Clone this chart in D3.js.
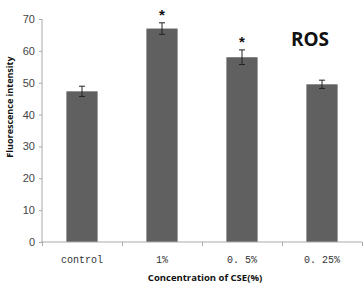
<!DOCTYPE html>
<html>
<head>
<meta charset="utf-8">
<script src="https://cdn.jsdelivr.net/npm/d3@7"></script>
<style>
  body { margin: 0; background: #fff; }
</style>
</head>
<body>
<div id="chart-area"></div>
<script>
let width = 364;
let height = 291;

// data
let groups = ["control", "1%", "0.5%", "0.25%"];
let groupLabels = ["control", "1%", "0. 5%", "0. 25%"];
let means = [47.3, 67, 58, 49.5];
let errors = [1.6, 1.8, 2.3, 1.3];
let marks = ["", "*", "*", ""];
let yTicks = [0, 10, 20, 30, 40, 50, 60, 70];

let margin = {left: 42, right: 2, top: 19, bottom: 49};

let svg = d3.select("#chart-area")
	.append("svg")
	.attr("width", width)
	.attr("height", height);

let x = d3.scaleBand()
	.domain(groups)
	.range([margin.left, width - margin.right])
	.paddingInner(0.61)
	.paddingOuter(0.305);

let y = d3.scaleLinear()
	.domain([0, 70])
	.range([height - margin.bottom, margin.top]);

// bars
svg.selectAll("rect.bar")
	.data(groups)
	.enter()
	.append("rect")
	.attr("class", "bar")
	.attr("x", d => x(d))
	.attr("y", (d, i) => y(means[i]))
	.attr("width", x.bandwidth())
	.attr("height", (d, i) => y(0) - y(means[i]))
	.attr("fill", "#606060");

// error bars
let err = svg.selectAll("g.err")
	.data(groups)
	.enter()
	.append("g")
	.attr("class", "err")
	.attr("stroke", "#222")
	.attr("stroke-width", 1);

err.append("line")
	.attr("x1", d => x(d) + x.bandwidth() / 2)
	.attr("x2", d => x(d) + x.bandwidth() / 2)
	.attr("y1", (d, i) => y(means[i] + errors[i]))
	.attr("y2", (d, i) => y(means[i] - errors[i]));

err.append("line")
	.attr("x1", d => x(d) + x.bandwidth() / 2 - 3)
	.attr("x2", d => x(d) + x.bandwidth() / 2 + 3)
	.attr("y1", (d, i) => y(means[i] + errors[i]))
	.attr("y2", (d, i) => y(means[i] + errors[i]));

err.append("line")
	.attr("x1", d => x(d) + x.bandwidth() / 2 - 3)
	.attr("x2", d => x(d) + x.bandwidth() / 2 + 3)
	.attr("y1", (d, i) => y(means[i] - errors[i]))
	.attr("y2", (d, i) => y(means[i] - errors[i]));

// significance stars
svg.selectAll("text.star")
	.data(groups)
	.enter()
	.append("text")
	.attr("class", "star")
	.attr("x", d => x(d) + x.bandwidth() / 2)
	.attr("y", (d, i) => y(means[i] + errors[i]) - 3)
	.attr("text-anchor", "middle")
	.style("font-family", "Liberation Sans, sans-serif")
	.style("font-size", "15px")
	.style("font-weight", "bold")
	.attr("fill", "#111")
	.text((d, i) => marks[i]);

// axes
let xAxis = d3.axisBottom(d3.scaleLinear().domain([0, groups.length]).range([margin.left, width - margin.right]))
	.ticks(groups.length)
	.tickSize(4)
	.tickFormat("");

let xg = svg.append("g")
	.attr("class", "x-axis")
	.attr("transform", `translate(0, ${y(0)})`)
	.call(xAxis);
xg.select(".domain").attr("stroke", "#aaa").attr("d", `M${margin.left - 1},0H${width - margin.right}`);
xg.selectAll(".tick line").attr("stroke", "#aaa");

let yAxis = d3.axisLeft(y)
	.tickValues(yTicks)
	.tickSize(3)
	.tickPadding(4);

let yg = svg.append("g")
	.attr("class", "y-axis")
	.attr("transform", `translate(${margin.left}, 0)`)
	.call(yAxis);
yg.select(".domain").attr("stroke", "#aaa").attr("d", `M0,${y(70)}V${y(0)}`);
yg.selectAll(".tick line").attr("stroke", "#aaa");
yg.selectAll(".tick text")
	.attr("fill", "#444")
	.style("font-family", "Liberation Sans, Arial, sans-serif")
	.style("font-size", "11px");

// category labels
svg.selectAll("text.cat")
	.data(groups)
	.enter()
	.append("text")
	.attr("class", "cat")
	.attr("x", d => x(d) + x.bandwidth() / 2)
	.attr("y", y(0) + 21)
	.attr("text-anchor", "middle")
	.attr("fill", "#333")
	.style("font-family", "Liberation Mono, monospace")
	.style("font-size", "10px")
	.text((d, i) => groupLabels[i]);

// axis titles
svg.append("text")
	.attr("x", 205)
	.attr("y", 281)
	.attr("text-anchor", "middle")
	.attr("fill", "#111")
	.style("font-family", "Open Sans, sans-serif")
	.style("font-size", "9.5px")
	.style("font-weight", "bold")
	.text("Concentration of CSE(%)");

svg.append("text")
	.attr("transform", "translate(13, 107) rotate(-90)")
	.attr("text-anchor", "middle")
	.attr("fill", "#111")
	.style("font-family", "Open Sans, sans-serif")
	.style("font-size", "9px")
	.style("font-weight", "bold")
	.text("Fluorescence intensity");

// chart label
svg.append("text")
	.attr("x", 310)
	.attr("y", 46)
	.attr("text-anchor", "middle")
	.attr("fill", "#111")
	.style("font-family", "Open Sans, sans-serif")
	.style("font-size", "19px")
	.style("font-weight", "bold")
	.text("ROS");
</script>
</body>
</html>
